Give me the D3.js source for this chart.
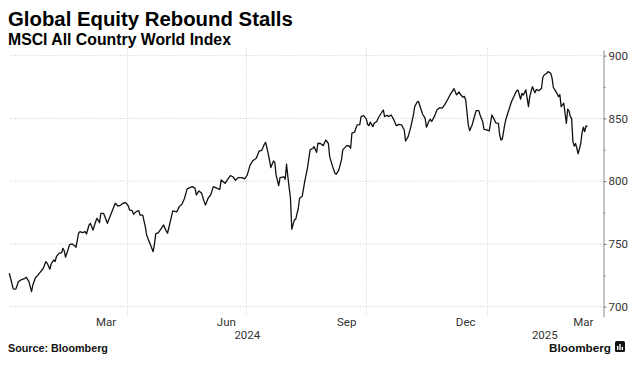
<!DOCTYPE html>
<html><head><meta charset="utf-8">
<script src="https://cdn.jsdelivr.net/npm/d3@7"></script>
<style>body{margin:0;background:#fff} svg{display:block}</style>
</head><body>
<svg id="c" width="644" height="368"></svg>
<script>
const dates = [
"2024-01-02","2024-01-05","2024-01-07","2024-01-09","2024-01-10","2024-01-12","2024-01-14","2024-01-15","2024-01-17","2024-01-19",
"2024-01-20","2024-01-22","2024-01-24","2024-01-26","2024-01-28","2024-01-30","2024-01-31","2024-02-02","2024-02-03","2024-02-05",
"2024-02-06","2024-02-07","2024-02-09","2024-02-11","2024-02-12","2024-02-13","2024-02-14","2024-02-16","2024-02-17","2024-02-19",
"2024-02-21","2024-02-22","2024-02-24","2024-02-25","2024-02-27","2024-02-29","2024-03-01","2024-03-03","2024-03-04","2024-03-06",
"2024-03-08","2024-03-09","2024-03-11","2024-03-12","2024-03-14","2024-03-15","2024-03-17","2024-03-20","2024-03-21","2024-03-23",
"2024-03-25","2024-03-27","2024-03-29","2024-03-31","2024-04-02","2024-04-03","2024-04-05","2024-04-06","2024-04-08","2024-04-10",
"2024-04-11","2024-04-13","2024-04-15","2024-04-16","2024-04-18","2024-04-19","2024-04-21","2024-04-22","2024-04-23","2024-04-25",
"2024-04-27","2024-04-29","2024-05-01","2024-05-02","2024-05-05","2024-05-06","2024-05-09","2024-05-11","2024-05-13","2024-05-15",
"2024-05-17","2024-05-19","2024-05-21","2024-05-23","2024-05-24","2024-05-26","2024-05-28","2024-05-30","2024-05-31","2024-06-02",
"2024-06-04","2024-06-06","2024-06-09","2024-06-11","2024-06-12","2024-06-15","2024-06-17","2024-06-19","2024-06-21","2024-06-23",
"2024-06-25","2024-06-28","2024-06-30","2024-07-02","2024-07-04","2024-07-06","2024-07-08","2024-07-09","2024-07-11","2024-07-13",
"2024-07-15","2024-07-16","2024-07-18","2024-07-20","2024-07-22","2024-07-23","2024-07-24","2024-07-26","2024-07-27","2024-07-30",
"2024-07-31","2024-08-01","2024-08-02","2024-08-04","2024-08-05","2024-08-07","2024-08-08","2024-08-10","2024-08-11","2024-08-13",
"2024-08-15","2024-08-17","2024-08-19","2024-08-21","2024-08-22","2024-08-24","2024-08-25","2024-08-27","2024-08-29","2024-08-31",
"2024-09-02","2024-09-03","2024-09-05","2024-09-07","2024-09-08","2024-09-10","2024-09-12","2024-09-13","2024-09-16","2024-09-18",
"2024-09-19","2024-09-20","2024-09-22","2024-09-23","2024-09-24","2024-09-26","2024-09-27","2024-09-29","2024-10-01","2024-10-02",
"2024-10-03","2024-10-04","2024-10-06","2024-10-07","2024-10-09","2024-10-10","2024-10-12","2024-10-14","2024-10-15","2024-10-17",
"2024-10-18","2024-10-20","2024-10-22","2024-10-24","2024-10-26","2024-10-28","2024-10-30","2024-10-31","2024-11-02","2024-11-04",
"2024-11-06","2024-11-07","2024-11-09","2024-11-10","2024-11-12","2024-11-13","2024-11-15","2024-11-16","2024-11-18","2024-11-19",
"2024-11-20","2024-11-22","2024-11-24","2024-11-26","2024-11-28","2024-11-30","2024-12-02","2024-12-04","2024-12-06","2024-12-07",
"2024-12-08","2024-12-09","2024-12-11","2024-12-12","2024-12-14","2024-12-15","2024-12-16","2024-12-18","2024-12-19","2024-12-21",
"2024-12-23","2024-12-24","2024-12-26","2024-12-27","2024-12-29","2024-12-30","2025-01-01","2025-01-03","2025-01-04","2025-01-05",
"2025-01-07","2025-01-08","2025-01-10","2025-01-11","2025-01-12","2025-01-13","2025-01-15","2025-01-16","2025-01-18","2025-01-20",
"2025-01-23","2025-01-24","2025-01-25","2025-01-27","2025-01-28","2025-01-29","2025-01-31","2025-02-01","2025-02-02","2025-02-03",
"2025-02-05","2025-02-07","2025-02-08","2025-02-10","2025-02-12","2025-02-13","2025-02-14","2025-02-16","2025-02-17","2025-02-19",
"2025-02-20","2025-02-21","2025-02-23","2025-02-24","2025-02-25","2025-02-26","2025-02-27","2025-03-01","2025-03-03","2025-03-04",
"2025-03-05","2025-03-06","2025-03-07","2025-03-08","2025-03-09","2025-03-10","2025-03-11","2025-03-12","2025-03-14","2025-03-15",
"2025-03-16","2025-03-17","2025-03-18","2025-03-19"
];
const values = [
726.6,714.1,714.0,720.0,720.7,721.8,722.6,723.4,720.0,712.0,
717.3,723.0,725.3,727.9,730.6,735.9,734.5,729.8,734.0,737.2,
735.9,739.8,742.5,743.0,746.5,744.5,739.4,745.7,749.2,750.0,
748.5,747.3,758.5,759.8,759.0,759.8,757.9,765.1,766.4,761.1,
767.7,770.4,767.0,774.4,774.4,772.0,766.4,774.4,777.0,782.4,
780.2,780.8,782.4,782.9,780.2,777.0,776.5,773.6,775.7,776.5,
773.0,773.0,763.7,757.1,751.8,749.2,743.8,750.0,758.0,759.0,
762.0,765.1,760.3,758.5,771.7,776.3,775.5,779.7,781.6,786.4,
793.8,794.8,795.6,794.5,789.0,792.2,790.5,783.7,781.0,786.4,
789.0,795.6,794.3,793.5,801.0,798.3,801.5,804.4,803.5,800.7,
802.8,802.8,801.8,805.0,812.4,816.1,817.7,818.5,824.0,824.5,
829.4,831.0,822.0,810.8,816.1,815.0,805.0,796.4,802.8,803.5,
801.5,813.5,803.6,786.4,761.7,769.1,769.5,778.4,786.4,788.0,
800.2,810.3,824.9,826.0,827.5,823.0,830.2,830.0,828.3,832.8,
830.0,819.5,812.4,806.3,805.5,809.0,816.9,824.9,828.3,828.0,
826.2,838.2,839.0,842.2,844.8,845.0,851.4,852.2,849.5,845.3,
844.2,847.0,843.4,846.1,847.5,850.1,853.5,856.7,851.4,852.5,
851.4,852.7,849.0,844.2,845.2,844.8,840.8,832.0,835.5,843.0,
852.7,859.4,863.3,863.3,856.7,853.5,850.0,843.0,848.0,849.3,
847.5,851.4,856.7,858.5,858.1,861.0,864.7,868.7,872.0,873.7,
871.5,868.7,871.1,869.0,866.9,867.5,864.7,844.8,840.2,845.0,
852.7,856.2,856.2,852.7,847.4,841.3,840.8,840.0,846.1,852.7,
848.8,846.5,846.1,836.8,832.8,833.5,846.1,850.1,856.7,863.3,
870.0,872.1,872.5,865.3,870.0,868.5,872.7,866.1,859.4,867.3,
875.3,870.5,873.0,872.1,874.0,882.8,884.6,886.0,887.3,886.0,
882.5,874.8,871.3,869.5,867.3,869.0,859.4,862.1,846.1,857.3,
856.0,851.4,850.0,831.5,828.0,830.0,826.2,821.7,830.2,838.7,
843.0,839.4,844.0,843.4
];
const gridDates = ["2024-04-01","2024-07-01","2024-10-01","2025-01-01"];
const monthTickDates = ["2024-03-16","2024-06-16","2024-09-16","2024-12-16","2025-03-16"];
const monthTickLabels = ["Mar","Jun","Sep","Dec","Mar"];
const yearLabels = ["2024","2025"];
const yearSpans = [["2024-01-01","2025-01-01"],["2025-01-01","2025-03-31"]];
const yMajorTicks = [700,750,800,850,900];
const yMinorTicks = [725,775,825,875];
const titleText = "Global Equity Rebound Stalls";
const subtitleText = "MSCI All Country World Index";
const sourceText = "Source: Bloomberg";
const brandText = "Bloomberg";

const parse = d3.utcParse("%Y-%m-%d");
const svg = d3.select("#c");
const x = d3.scaleUtc().domain([parse("2024-01-01"), parse("2025-03-31")]).range([8, 603]);
const y = d3.scaleLinear().domain([692, 904.5]).range([316.7, 50]);

// gridlines
svg.append("g").selectAll("line").data(yMajorTicks).join("line")
  .attr("x1", 10).attr("x2", 603)
  .attr("y1", d => y(d)).attr("y2", d => y(d))
  .attr("stroke", "#cfcfcf").attr("stroke-width", 1).attr("stroke-dasharray", "1,1.5");
svg.append("g").selectAll("line").data(gridDates).join("line")
  .attr("x1", d => Math.round(x(parse(d))) + 0.5).attr("x2", d => Math.round(x(parse(d))) + 0.5)
  .attr("y1", 48).attr("y2", 316)
  .attr("stroke", "#d6d6d6").attr("stroke-width", 1).attr("stroke-dasharray", "1,1.5");

// y axis
const yAxis = svg.append("g").attr("transform", "translate(603.5,0)")
  .call(d3.axisRight(y).tickValues(yMajorTicks).tickSize(3).tickSizeOuter(0).tickPadding(2));
yAxis.select(".domain").attr("stroke", "#8a8a8a");
yAxis.selectAll(".tick line").attr("stroke", "#777");
yAxis.selectAll("text").attr("font-family", "Roboto, 'Liberation Sans', sans-serif")
  .attr("font-size", 11.5).attr("fill", "#333");
const yMinor = svg.append("g").attr("transform", "translate(603.5,0)")
  .call(d3.axisRight(y).tickValues(yMinorTicks).tickSize(2).tickFormat(""));
yMinor.select(".domain").remove();
yMinor.selectAll(".tick line").attr("stroke", "#888");

// x labels
svg.append("g").selectAll("text").data(monthTickDates).join("text")
  .attr("x", d => x(parse(d))).attr("y", 326)
  .attr("text-anchor", "middle")
  .attr("font-family", "Roboto, 'Liberation Sans', sans-serif").attr("font-size", 11.5).attr("fill", "#333")
  .text((d, i) => monthTickLabels[i]);
svg.append("g").selectAll("text").data(yearLabels).join("text")
  .attr("x", (d, i) => (x(parse(yearSpans[i][0])) + x(parse(yearSpans[i][1]))) / 2).attr("y", 339)
  .attr("text-anchor", "middle")
  .attr("font-family", "Roboto, 'Liberation Sans', sans-serif").attr("font-size", 11.5).attr("fill", "#333")
  .text(d => d);

// line
const data = dates.map((d, i) => ({ date: parse(d), value: values[i] }));
svg.append("path").datum(data)
  .attr("fill", "none").attr("stroke", "#111").attr("stroke-width", 1.3)
  .attr("stroke-linejoin", "round")
  .attr("d", d3.line().x(d => x(d.date)).y(d => y(d.value)));

// texts with fitted widths
function fitText(sel, targetW) {
  const w = sel.node().getComputedTextLength();
  const fs = parseFloat(sel.attr("font-size"));
  sel.attr("font-size", fs * targetW / w);
}
const title = svg.append("text").attr("x", 8).attr("y", 26)
  .attr("font-family", "'Liberation Sans', Arial, sans-serif").attr("font-weight", "bold")
  .attr("font-size", 18).attr("fill", "#000").text(titleText);
fitText(title, 285);
const sub = svg.append("text").attr("x", 8).attr("y", 45)
  .attr("font-family", "'Liberation Sans', Arial, sans-serif").attr("font-weight", "bold")
  .attr("font-size", 14).attr("fill", "#000").text(subtitleText);
fitText(sub, 223);
const src = svg.append("text").attr("x", 8).attr("y", 352)
  .attr("font-family", "'Liberation Sans', Arial, sans-serif").attr("font-weight", "bold")
  .attr("font-size", 10).attr("fill", "#111").text(sourceText);
fitText(src, 100);
const brand = svg.append("text").attr("x", 611).attr("y", 352)
  .attr("text-anchor", "end")
  .attr("font-family", "'Liberation Sans', Arial, sans-serif").attr("font-weight", "bold")
  .attr("font-size", 13).attr("fill", "#111").text(brandText);
fitText(brand, 62);
// brand icon
const icon = svg.append("g").attr("transform", "translate(615,341)");
icon.append("rect").attr("width", 10).attr("height", 11).attr("rx", 1.5).attr("fill", "#111");
[[2,5,1.4,4],[4.3,3,1.4,6],[6.6,6,1.4,3]].forEach(b => icon.append("rect")
  .attr("x", b[0]).attr("y", b[1]).attr("width", b[2]).attr("height", b[3]).attr("fill", "#fff"));
</script>
</body></html>
